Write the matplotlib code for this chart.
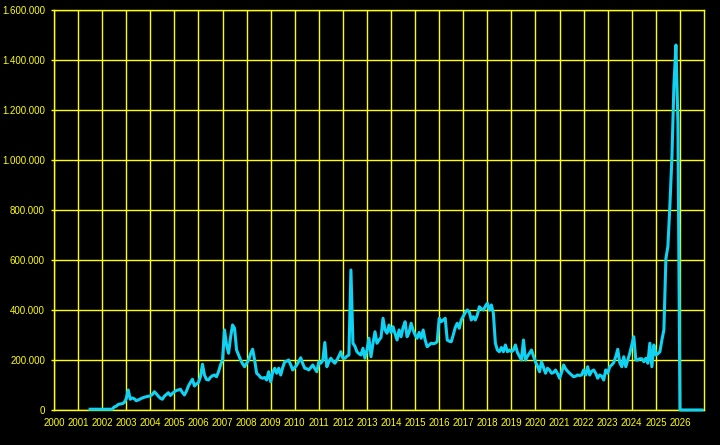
import matplotlib
matplotlib.use("Agg")
import matplotlib.pyplot as plt
import matplotlib.ticker as ticker
import numpy as np
import pandas as pd

# monthly values in thousands, first month is July 2001
values_2001_2006 = [3, 3, 3, 3, 3, 3,
                    3, 3, 3, 3, 3, 3, 12, 15, 22, 24, 25, 30,
                    45, 80, 43, 48, 45, 37, 40, 44, 48, 51, 53, 55,
                    56, 62, 73, 65, 55, 47, 43, 55, 62, 69, 58, 66,
                    73, 78, 80, 83, 70, 60, 75, 96, 110, 123, 96, 104,
                    110, 133, 183, 140, 122, 120, 131, 137, 140, 133, 153, 180]
values_2007_2012 = [200, 320, 260, 227, 290, 340, 327, 240, 220, 200, 185, 173,
                    187, 200, 225, 243, 200, 147, 140, 130, 127, 130, 120, 153,
                    113, 150, 167, 147, 167, 140, 170, 193, 195, 200, 180, 160,
                    170, 180, 195, 209, 185, 167, 165, 160, 170, 180, 165, 153,
                    193, 187, 200, 270, 173, 193, 207, 195, 187, 200, 215, 233,
                    207, 207, 215, 220, 560, 267, 255, 233, 225, 220, 247, 207]
values_2013_2018 = [240, 287, 213, 267, 313, 267, 280, 290, 367, 320, 307, 340,
                    310, 333, 305, 280, 320, 293, 330, 353, 293, 310, 347, 320,
                    300, 287, 310, 287, 320, 280, 253, 260, 267, 265, 267, 273,
                    367, 353, 360, 367, 280, 275, 273, 300, 330, 347, 327, 360,
                    375, 390, 400, 393, 360, 373, 360, 380, 413, 405, 400, 415,
                    427, 400, 420, 387, 267, 240, 233, 250, 233, 260, 233, 240]
values_2019_2026 = [233, 240, 260, 230, 215, 200, 280, 200, 215, 227, 240, 215,
                    193, 175, 153, 193, 170, 147, 167, 160, 147, 150, 160, 145,
                    127, 150, 180, 165, 155, 147, 140, 133, 135, 140, 138, 140,
                    160, 140, 173, 140, 155, 160, 147, 127, 140, 135, 120, 160,
                    147, 173, 180, 190, 213, 243, 189, 173, 213, 173, 200, 227,
                    260, 293, 200, 200, 205, 205, 193, 207, 187, 267, 173, 260,
                    220, 225, 233, 280, 320, 605, 655, 820, 1010, 1300, 1460, 1150,
                    0, 0, 0, 0, 0, 0, 0, 0, 0, 0, 0, 0]

years = list(range(2000, 2027))

months = pd.date_range("2001-07-01", "2026-12-01", freq="MS")
values = np.array(values_2001_2006 + values_2007_2012 + values_2013_2018 + values_2019_2026) * 1000
time = months.year + (months.month - 1) / 12.0

yellow = "#ffff00"
fig = plt.figure(figsize=(7.2, 4.45), dpi=100, facecolor="black")
ax = fig.add_axes([0.075, 0.0787, 0.9028, 0.8988], facecolor="black")

ax.plot(time, values, color="#10d2f2", linewidth=2.2, clip_on=False, zorder=3)

ax.set_xlim(2000, 2027)
ax.set_ylim(0, 1600000)
ax.set_xticks(years)
ax.set_xticklabels([str(y) for y in years])
ax.yaxis.set_major_locator(ticker.MultipleLocator(200000))
ax.yaxis.set_major_formatter(ticker.FuncFormatter(lambda v, p: "{:,.0f}".format(v).replace(",", ".")))

ax.grid(True, color=yellow, linewidth=1.0)
ax.set_axisbelow(True)
for s in ax.spines.values():
    s.set_color(yellow)
    s.set_linewidth(1.0)

ax.tick_params(axis="x", length=0, pad=5.5, colors=yellow, labelsize=7.0)
ax.tick_params(axis="y", length=2, width=1, pad=4.5, colors=yellow, labelsize=7.0)
for lab in ax.get_xticklabels() + ax.get_yticklabels():
    lab.set_family("Liberation Sans")

fig.savefig("out.png", dpi=100, facecolor="black")
